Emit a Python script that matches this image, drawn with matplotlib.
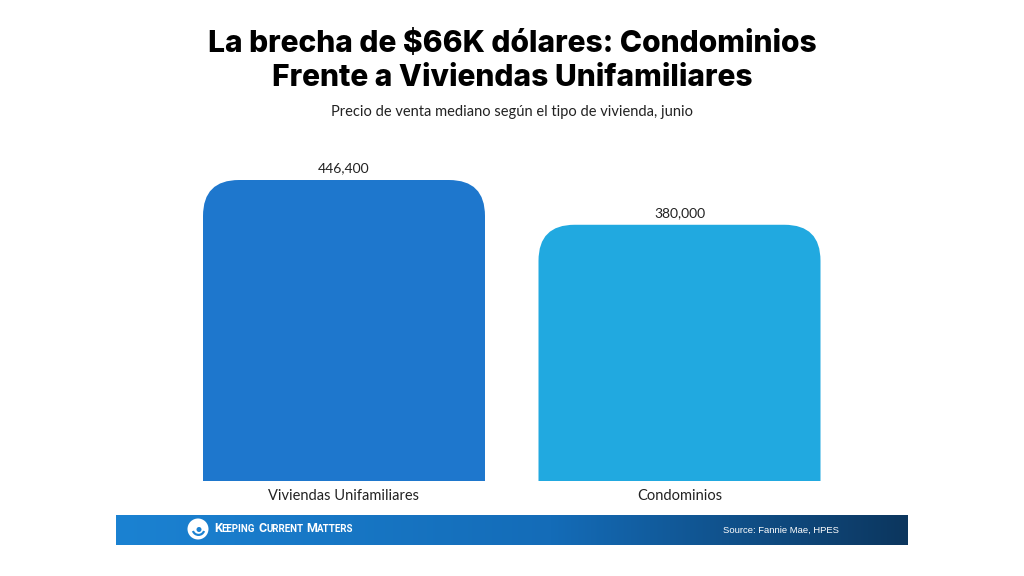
import numpy as np
import matplotlib
matplotlib.use("Agg")
import matplotlib.pyplot as plt
from matplotlib.path import Path
from matplotlib.patches import PathPatch, Circle, Wedge
from matplotlib.transforms import IdentityTransform

# data
categories = ["Viviendas Unifamiliares", "Condominios"]
prices = [446400, 380000]
value_labels = ["446,400", "380,000"]
bar_colors = ["#1e77cd", "#21a9e0"]

W, H = 1024, 576
fig = plt.figure(figsize=(W / 100, H / 100), dpi=100)
fig.patch.set_facecolor("white")

# axes placed so bar baseline sits at y=481px
ax_left, ax_w = 176.25 / W, 671 / W
ax_bottom = (H - 481) / H
ymax = 500000
ax_h_px = ymax * 301 / 446400
ax = fig.add_axes([ax_left, ax_bottom, ax_w, ax_h_px / H])
ax.set_xlim(-0.5, 1.5)
ax.set_ylim(0, ymax)
ax.axis("off")

bar_w = 282 / 335.5
radius_px = 36
px_x = 671 / 2.0
px_y = ax_h_px / ymax
rx = radius_px / px_x
ry = radius_px / px_y


def rounded_top_bar(x, h, w, color):
    x0, x1 = x - w / 2, x + w / 2
    verts = [
        (x0, 0), (x0, h - ry), (x0, h), (x0 + rx, h),
        (x1 - rx, h), (x1, h), (x1, h - ry), (x1, 0), (x0, 0),
    ]
    codes = [Path.MOVETO, Path.LINETO, Path.CURVE3, Path.CURVE3,
             Path.LINETO, Path.CURVE3, Path.CURVE3, Path.LINETO, Path.CLOSEPOLY]
    ax.add_patch(PathPatch(Path(verts, codes), facecolor=color, edgecolor="none"))


for i, (v, c) in enumerate(zip(prices, bar_colors)):
    rounded_top_bar(i, v, bar_w, c)
    ax.annotate(value_labels[i], (i, v), xytext=(0, 4), textcoords="offset points",
                ha="center", va="bottom", fontsize=10, family="Lato", color="#222222")
    ax.annotate(categories[i], (i, 0), xytext=(0, -6), textcoords="offset points",
                ha="center", va="top", fontsize=10.5, family="Lato", color="#222222")

# titles
title_kw = dict(ha="center", va="baseline", fontsize=21.6, fontweight=800,
                family="Inter", color="black")
fig.text(0.5, 1 - 52 / H, "La brecha de $66K dólares: Condominios", **title_kw)
fig.text(0.5, 1 - 86 / H, "Frente a Viviendas Unifamiliares", **title_kw)
fig.text(0.5, 1 - 112 / H, "Precio de venta mediano según el tipo de vivienda, junio",
         ha="center", va="center", fontsize=10.5, family="Lato", color="#222222")

# footer banner
bax = fig.add_axes([116 / W, (H - 545) / H, 792 / W, 30 / H])
start = np.array([0x1b, 0x82, 0xd2]) / 255
mid = np.array([0x14, 0x6c, 0xb8]) / 255
end = np.array([0x0c, 0x36, 0x5e]) / 255
t = np.linspace(0, 1, 400)[:, None]
grad = np.where(t < 0.55, start + (mid - start) * (t / 0.55),
                mid + (end - mid) * ((t - 0.55) / 0.45))
bax.imshow(grad[None, :, :], aspect="auto", extent=(0, 1, 0, 1))
bax.set_xlim(0, 1)
bax.set_ylim(0, 1)
bax.axis("off")

# logo (pixel coords)
cx, cy = 198, H - 529
fig.patches.append(Circle((cx, cy), 10.5, transform=IdentityTransform(),
                          facecolor="white", edgecolor="none"))
fig.patches.append(Wedge((cx + 0.5, cy), 7, 200, 520 - 180, width=2.2,
                         transform=IdentityTransform(), facecolor="#1b82d2",
                         edgecolor="none"))
fig.patches.append(Circle((cx + 1, cy - 0.5), 2.5, transform=IdentityTransform(),
                          facecolor="#1b82d2", edgecolor="none"))

# small caps brand text
fig.canvas.draw()
renderer = fig.canvas.get_renderer()
x = 214
for word in ["KEEPING", "CURRENT", "MATTERS"]:
    for k, ch in enumerate([word[0], word[1:]]):
        size = 9 if k == 0 else 7
        tx = fig.text(x / W, 1 - 532 / H, ch, ha="left", va="baseline", color="white",
                      fontsize=size, fontweight="bold", family="Roboto")
        tx.set_stretch("condensed")
        bb = tx.get_window_extent(renderer)
        x += bb.width
    x += 3

bax.text(0.84, 0.5, "Source: Fannie Mae, HPES", ha="center", va="center", color="white",
         fontsize=6.8, family=["Liberation Sans", "DejaVu Sans"])

fig.savefig("out.png", dpi=100)
